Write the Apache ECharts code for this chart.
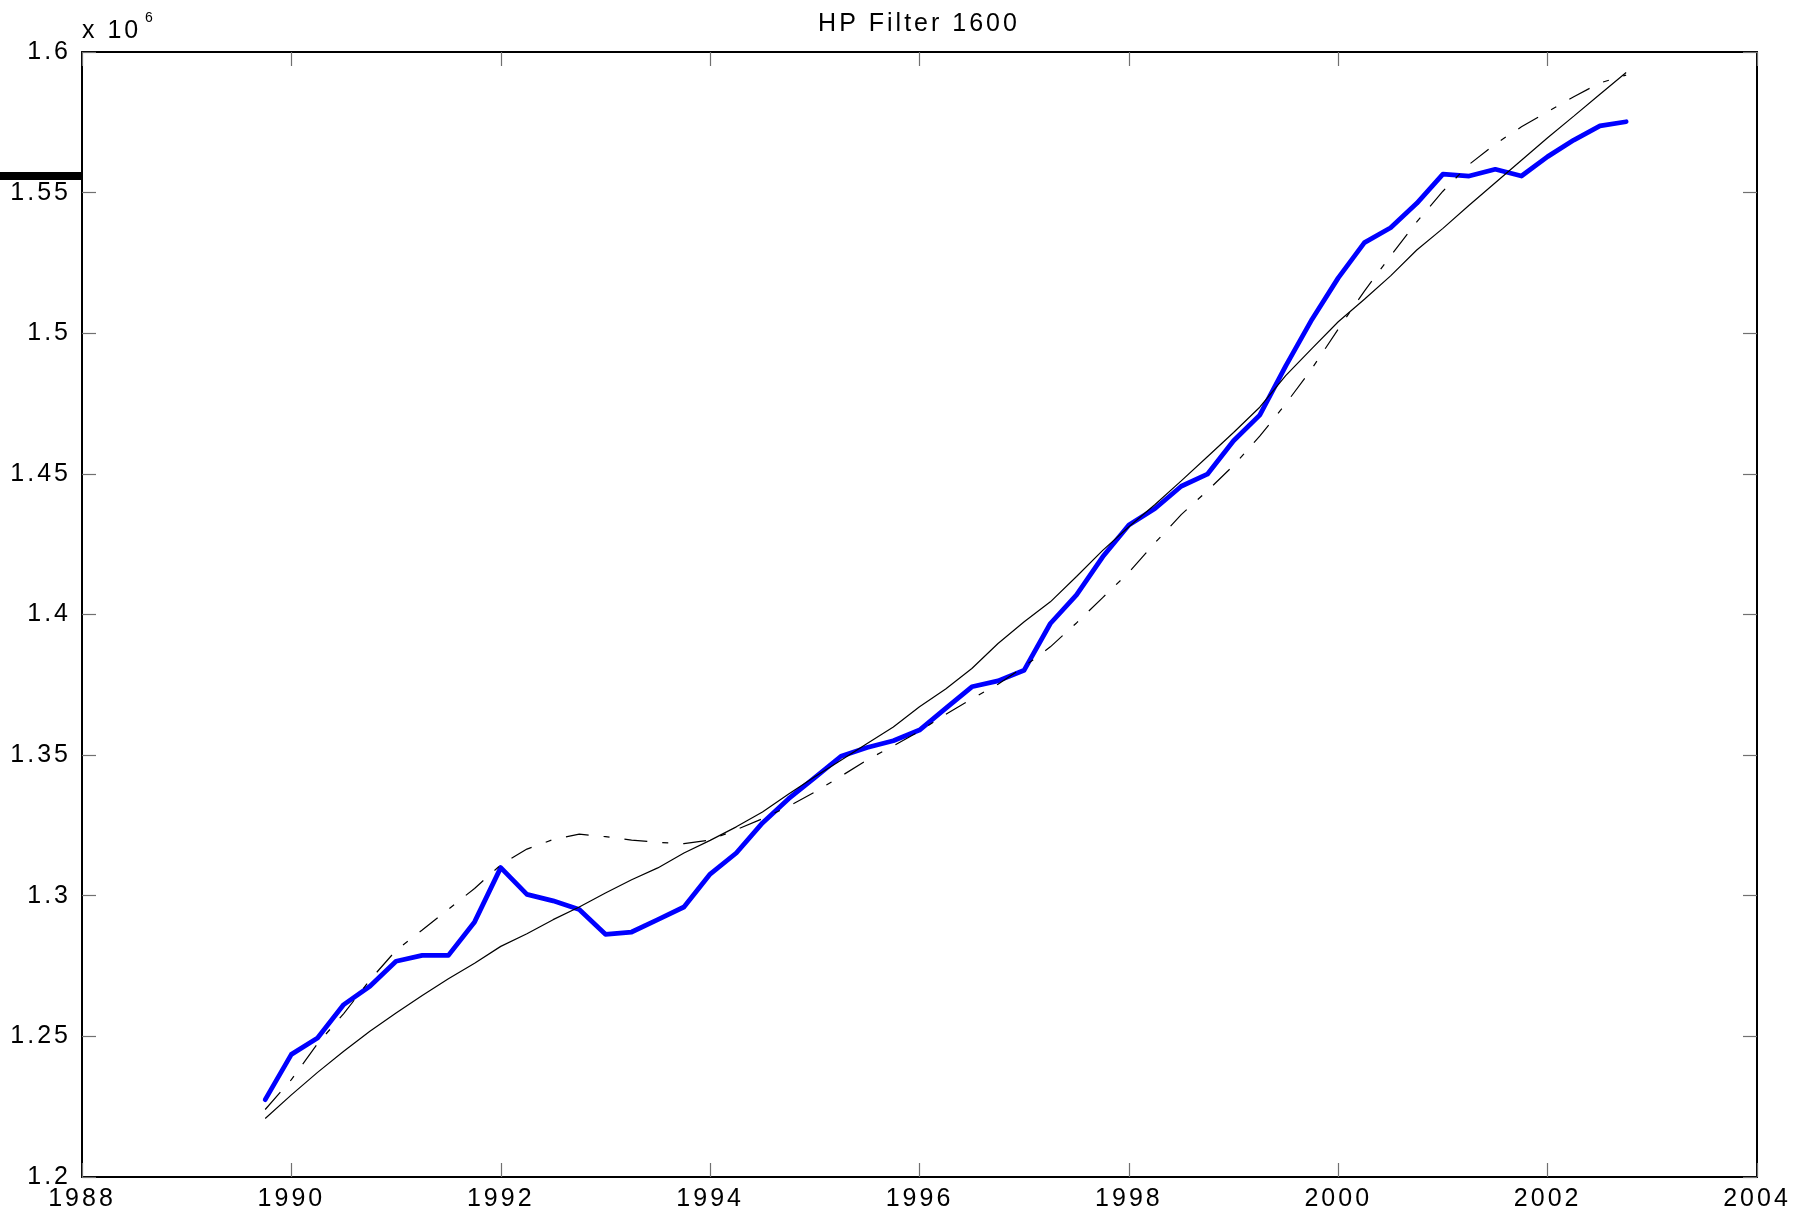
<!DOCTYPE html>
<html>
<head>
<meta charset="utf-8">
<style>
html,body{margin:0;padding:0;background:#ffffff;}
#chart{width:1796px;height:1213px;}
</style>
<script src="https://cdn.jsdelivr.net/npm/echarts@6/dist/echarts.min.js"></script>
</head>
<body>
<div id="chart"></div>
<script>
// ---------- DATA (values in units of 10^6) ----------
const firstQuarter = 1989.75;   // 1989 Q4
const quarterCount = 53;        // through 2002 Q4
const quarters = Array.from({length: quarterCount}, (_, i) => firstQuarter + i * 0.25);

// thick blue line: original series
const actualSeries = [
  1.2275, 1.2436, 1.2494, 1.2613, 1.2678, 1.2767, 1.2788, 1.2788, 1.2907, 1.3100,
  1.3005, 1.2982, 1.2951, 1.2863, 1.2871, 1.2915, 1.2960, 1.3077, 1.3152, 1.3259,
  1.3345, 1.3420, 1.3496, 1.3527, 1.3551, 1.3589, 1.3666, 1.3743, 1.3764, 1.3802,
  1.3968, 1.4070, 1.4205, 1.4318, 1.4377, 1.4456, 1.4499, 1.4618, 1.4709, 1.4885,
  1.5050, 1.5197, 1.5322, 1.5375, 1.5462, 1.5566, 1.5559, 1.5583, 1.5559, 1.5628,
  1.5687, 1.5737, 1.5752
];

// thin solid black line: HP trend, lambda = 1600
const hpTrend1600 = [
  1.2208, 1.2292, 1.2372, 1.2447, 1.2518, 1.2583, 1.2645, 1.2705, 1.2760, 1.2820,
  1.2865, 1.2915, 1.2960, 1.3010, 1.3057, 1.3099, 1.3152, 1.3197, 1.3245, 1.3298,
  1.3362, 1.3423, 1.3482, 1.3541, 1.3600, 1.3672, 1.3735, 1.3808, 1.3897, 1.3974,
  1.4045, 1.4135, 1.4228, 1.4312, 1.4391, 1.4475, 1.4561, 1.4647, 1.4737, 1.4850,
  1.4946, 1.5041, 1.5121, 1.5204, 1.5296, 1.5373, 1.5455, 1.5535, 1.5615, 1.5695,
  1.5772, 1.5850, 1.5927
];

// dash-dot black line: smoother-following trend
const dashDotTrend = [
  1.2240, 1.2346, 1.2474, 1.2581, 1.2700, 1.2806, 1.2878, 1.2952, 1.3026, 1.3110,
  1.3166, 1.3200, 1.3219, 1.3210, 1.3198, 1.3190, 1.3185, 1.3198, 1.3235, 1.3274,
  1.3318, 1.3369, 1.3425, 1.3483, 1.3533, 1.3585, 1.3645, 1.3700, 1.3752, 1.3815,
  1.3885, 1.3970, 1.4060, 1.4150, 1.4255, 1.4355, 1.4440, 1.4530, 1.4634, 1.4750,
  1.4875, 1.5015, 1.5150, 1.5275, 1.5396, 1.5505, 1.5600, 1.5673, 1.5734, 1.5788,
  1.5841, 1.5890, 1.5918
];

// axis ticks
const xTickValues = [1988, 1990, 1992, 1994, 1996, 1998, 2000, 2002, 2004];
const yTickValues = [1.2, 1.25, 1.3, 1.35, 1.4, 1.45, 1.5, 1.55, 1.6];
const titleText = 'HP Filter 1600';
const exponentBase = 'x 10';
const exponentPower = '6';

// ---------- text tracking like the original export ----------
(function () {
  const proto = CanvasRenderingContext2D.prototype;
  const fill = proto.fillText, measure = proto.measureText;
  proto.fillText = function () { this.letterSpacing = '3px'; return fill.apply(this, arguments); };
  proto.measureText = function () { this.letterSpacing = '3px'; return measure.apply(this, arguments); };
})();

const FONT = 'Liberation Sans';
const pair = arr => quarters.map((q, i) => [q, arr[i]]);

const chart = echarts.init(document.getElementById('chart'), null, {renderer: 'canvas'});

const xBase = {
  type: 'value',
  min: xTickValues[0],
  max: xTickValues[xTickValues.length - 1],
  interval: xTickValues[1] - xTickValues[0],
  splitLine: {show: false},
  axisLine: {show: true, onZero: false, lineStyle: {color: '#000', width: 2}},
  axisTick: {show: true, inside: true, length: 14, lineStyle: {color: '#707070', width: 1.2}}
};
const yBase = {
  type: 'value',
  min: yTickValues[0],
  max: yTickValues[yTickValues.length - 1],
  interval: 0.05,
  scale: true,
  splitLine: {show: false},
  axisLine: {show: true, onZero: false, lineStyle: {color: '#000', width: 2}},
  axisTick: {show: true, inside: true, length: 14, lineStyle: {color: '#707070', width: 1.2}}
};

chart.setOption({
  animation: false,
  backgroundColor: '#ffffff',
  title: {
    text: titleText,
    left: 914,
    top: 5,
    textAlign: 'center',
    textStyle: {fontFamily: FONT, fontSize: 25, fontWeight: 'normal', color: '#000'}
  },
  grid: {left: 82, right: 39, top: 52, bottom: 36, containLabel: false},
  xAxis: [
    Object.assign({}, xBase, {
      position: 'bottom',
      axisLabel: {show: true, fontFamily: FONT, fontSize: 25, color: '#000', margin: 8,
                  formatter: v => String(v)}
    }),
    Object.assign({}, xBase, {position: 'top', axisLabel: {show: false}})
  ],
  yAxis: [
    Object.assign({}, yBase, {
      position: 'left',
      axisLabel: {show: true, fontFamily: FONT, fontSize: 25, color: '#000', margin: 11,
                  formatter: v => String(+v.toFixed(2))}
    }),
    Object.assign({}, yBase, {position: 'right', axisLabel: {show: false}})
  ],
  graphic: [
    {type: 'text', left: 82, top: 17, silent: true,
     style: {text: exponentBase, fontFamily: FONT, fontSize: 25, fill: '#000'}},
    {type: 'text', left: 145, top: 10, silent: true,
     style: {text: exponentPower, fontFamily: FONT, fontSize: 14, fill: '#000'}},
    {type: 'rect', left: 0, top: 172, silent: true,
     shape: {width: 82, height: 8}, style: {fill: '#000'}}
  ],
  series: [
    {
      name: 'Series', type: 'line', data: pair(actualSeries),
      showSymbol: false, symbol: 'none', smooth: false, z: 2,
      lineStyle: {color: '#0000ff', width: 4.8, cap: 'round', join: 'round'}
    },
    {
      name: 'HP trend 1600', type: 'line', data: pair(hpTrend1600),
      showSymbol: false, symbol: 'none', smooth: false, z: 3,
      lineStyle: {color: '#000000', width: 1.2}
    },
    {
      name: 'Trend (dash-dot)', type: 'line', data: pair(dashDotTrend),
      showSymbol: false, symbol: 'none', smooth: false, z: 3,
      lineStyle: {color: '#000000', width: 1.2, type: [23, 15, 6, 15]}
    }
  ]
});
</script>
</body>
</html>
